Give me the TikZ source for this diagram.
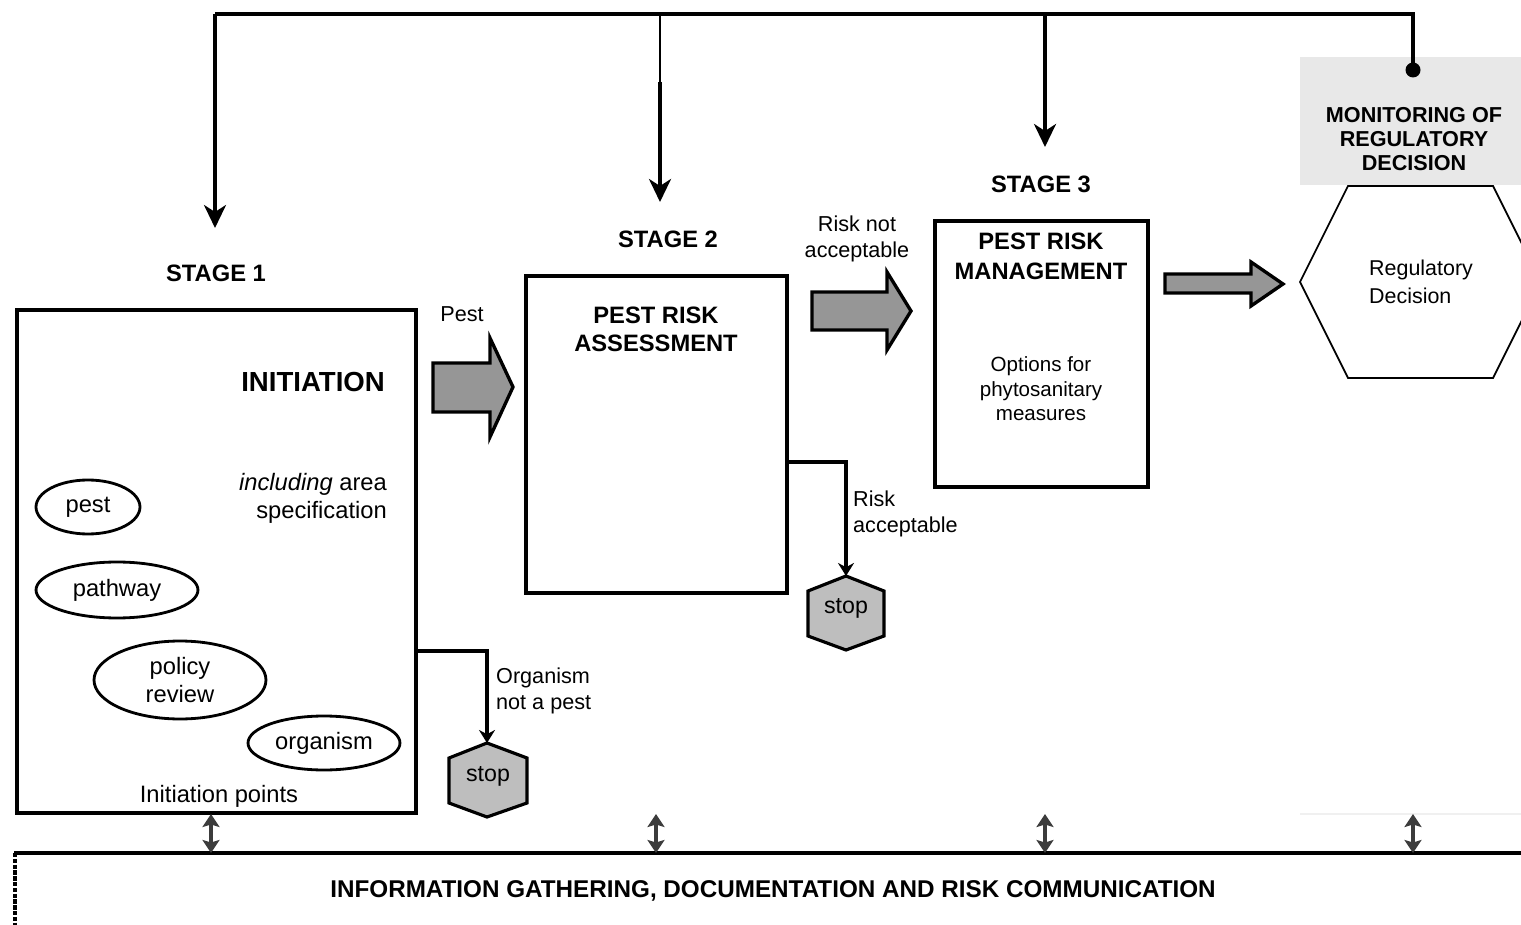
\documentclass[tikz,border=0pt]{standalone}
\usepackage{fontspec}
\setmainfont{Liberation Sans}
\usetikzlibrary{arrows.meta,shapes.geometric}
\definecolor{arrowgray}{RGB}{150,150,150}
\definecolor{stopgray}{RGB}{190,190,190}
\definecolor{mongray}{RGB}{232,232,232}
\definecolor{darkgray}{RGB}{60,60,60}
\tikzset{
  box/.style={draw, line width=2pt, inner sep=0pt},
  blob/.style={draw, ellipse, line width=1.6pt, inner sep=0pt, align=center, font=\fontsize{13.5}{15.5}\selectfont},
  stagelbl/.style={font=\bfseries\fontsize{13.5}{15}\selectfont},
  head/.style={font=\bfseries\fontsize{13.5}{16}\selectfont, align=center},
  txt/.style={font=\fontsize{12.3}{14.7}\selectfont},
  blockarrow/.style={draw, line width=1.9pt, fill=arrowgray, line join=miter},
  stophex/.style={draw, line width=1.8pt, fill=stopgray},
  feed/.style={line width=2pt},
  down/.style={line width=2pt, -{Stealth[length=0.46cm, width=0.44cm, inset=0.14cm]}},
  conn/.style={line width=1.8pt, -{Stealth[length=0.26cm, width=0.32cm]}},
  info/.style={line width=2.4pt, darkgray, {Stealth[length=0.26cm, width=0.34cm, inset=0.05cm]}-{Stealth[length=0.26cm, width=0.34cm, inset=0.05cm]}}
}
\begin{document}
\begin{tikzpicture}[x=0.02cm, y=-0.02cm]
	\useasboundingbox (0,0) rectangle (1521,925);

	% monitoring of regulatory decision
	\fill[mongray] (1300,57) rectangle (1521,185);
	\draw[gray!12, line width=0.6pt] (1300,814) -- (1521,814);
	\node[font=\bfseries\fontsize{12.3}{13.6}\selectfont, align=center] (mon) at (1414,139) {MONITORING OF\\REGULATORY\\DECISION};
	\draw[line width=1pt] (1300,282) -- (1348,186) -- (1493,186) -- (1541,282) -- (1493,378) -- (1348,378) -- cycle;
	\node[txt, font=\fontsize{12.2}{15.9}\selectfont, align=left, anchor=west] (regdec) at (1363,282) {Regulatory\\Decision};

	% feedback line along the top
	\coordinate (t1) at (215,14);
	\coordinate (t2) at (660,14);
	\coordinate (t3) at (1045,14);
	\coordinate (t4) at (1413,14);
	\coordinate (a1) at (215,228);
	\coordinate (b2) at (660,82);
	\coordinate (a2) at (660,202);
	\coordinate (a3) at (1045,147);
	\coordinate (mondot) at (1413,70);
	\draw[feed] (t1) -- (t4) -- (mondot);
	\fill (mondot) circle (0.15cm);
	\draw[down] (t1) -- (a1);
	\draw[line width=0.9pt] (t2) -- (b2);
	\draw[down] (b2) -- (a2);
	\draw[down] (t3) -- (a3);

	% stage labels
	\node[stagelbl] (st1) at (216,273) {STAGE 1};
	\node[stagelbl] (st2) at (668,239) {STAGE 2};
	\node[stagelbl] (st3) at (1041,184) {STAGE 3};

	% stage 1
	\node[box, minimum width=7.98cm, minimum height=10.06cm] (init) at (216.5,561.5) {};
	\node[font=\bfseries\fontsize{15.7}{18}\selectfont, anchor=east] (inittitle) at (391,382) {INITIATION};
	\node[font=\fontsize{13.5}{15.9}\selectfont, align=right, anchor=east] (area) at (393,498) {\textit{including} area\\specification};
	\node[blob, minimum width=2.08cm, minimum height=1.08cm] (pest) at (88,507) {pest};
	\node[blob, minimum width=3.24cm, minimum height=1.12cm] (pathway) at (117,590) {pathway};
	\node[blob, minimum width=3.44cm, minimum height=1.56cm] (policy) at (180,680) {policy\\review};
	\node[blob, minimum width=3.04cm, minimum height=1.08cm] (organism) at (324,743) {organism};
	\node[font=\fontsize{13.5}{15.5}\selectfont] (points) at (219,796) {Initiation points};

	% stop after initiation
	\draw[stophex] (487,743) -- (527,758) -- (527,803) -- (487,817) -- (449,803) -- (449,758) -- cycle;
	\node[font=\fontsize{13.2}{15}\selectfont] (stopA) at (488,776) {stop};
	\coordinate (stopAtop) at (487,743);
	\coordinate (initout) at (init.east |- 0,651);
	\draw[conn] (initout) -| (stopAtop);
	\node[txt, align=left, anchor=west] (notpest) at (490,691) {Organism\\not a pest};

	% pest arrow
	\node[txt] (pestlbl) at (462,314) {Pest};
	\draw[blockarrow] (433,363) -- (490,363) -- (490,338) -- (513,387) -- (490,437) -- (490,412) -- (433,412) -- cycle;

	% stage 2
	\node[box, minimum width=5.22cm, minimum height=6.34cm] (pra) at (656.5,434.5) {};
	\node[head] (pratitle) at (656,329) {PEST RISK\\ASSESSMENT};

	% stop after assessment
	\draw[stophex] (846,576) -- (884,591) -- (884,636) -- (846,650) -- (808,636) -- (808,591) -- cycle;
	\node[font=\fontsize{13.2}{15}\selectfont] (stopB) at (846,608) {stop};
	\coordinate (stopBtop) at (846,576);
	\coordinate (praout) at (pra.east |- 0,462);
	\draw[conn] (praout) -| (stopBtop);
	\node[txt, align=left, anchor=west] (riskok) at (847,514) {Risk\\acceptable};

	% risk not acceptable arrow
	\node[txt, align=center] (risknot) at (857,239) {Risk not\\acceptable};
	\draw[blockarrow] (812,292) -- (887,292) -- (887,272) -- (911,311) -- (887,350) -- (887,330) -- (812,330) -- cycle;

	% stage 3
	\node[box, minimum width=4.26cm, minimum height=5.32cm] (prm) at (1041.5,354) {};
	\node[head, font=\bfseries\fontsize{13.5}{17}\selectfont] (prmtitle) at (1041,256) {PEST RISK\\MANAGEMENT};
	\node[font=\fontsize{11.7}{13.9}\selectfont, align=center] (options) at (1041,389) {Options for\\phytosanitary\\measures};
	\draw[blockarrow] (1165,274) -- (1251,274) -- (1251,262) -- (1283,284) -- (1251,306) -- (1251,293) -- (1165,293) -- cycle;

	% information gathering
	\draw[line width=2pt] (14,853) -- (1521,853);
	\draw[line width=2pt, dash pattern=on 2.5pt off 0.8pt] (15,853) -- (15,925);
	\node[font=\bfseries\fontsize{13.8}{15}\selectfont] (infogath) at (773,891) {INFORMATION GATHERING, DOCUMENTATION AND RISK COMMUNICATION};
	\foreach \x in {211,656,1045,1413}
		\draw[info] (\x,814) -- (\x,853);
\end{tikzpicture}
\end{document}
